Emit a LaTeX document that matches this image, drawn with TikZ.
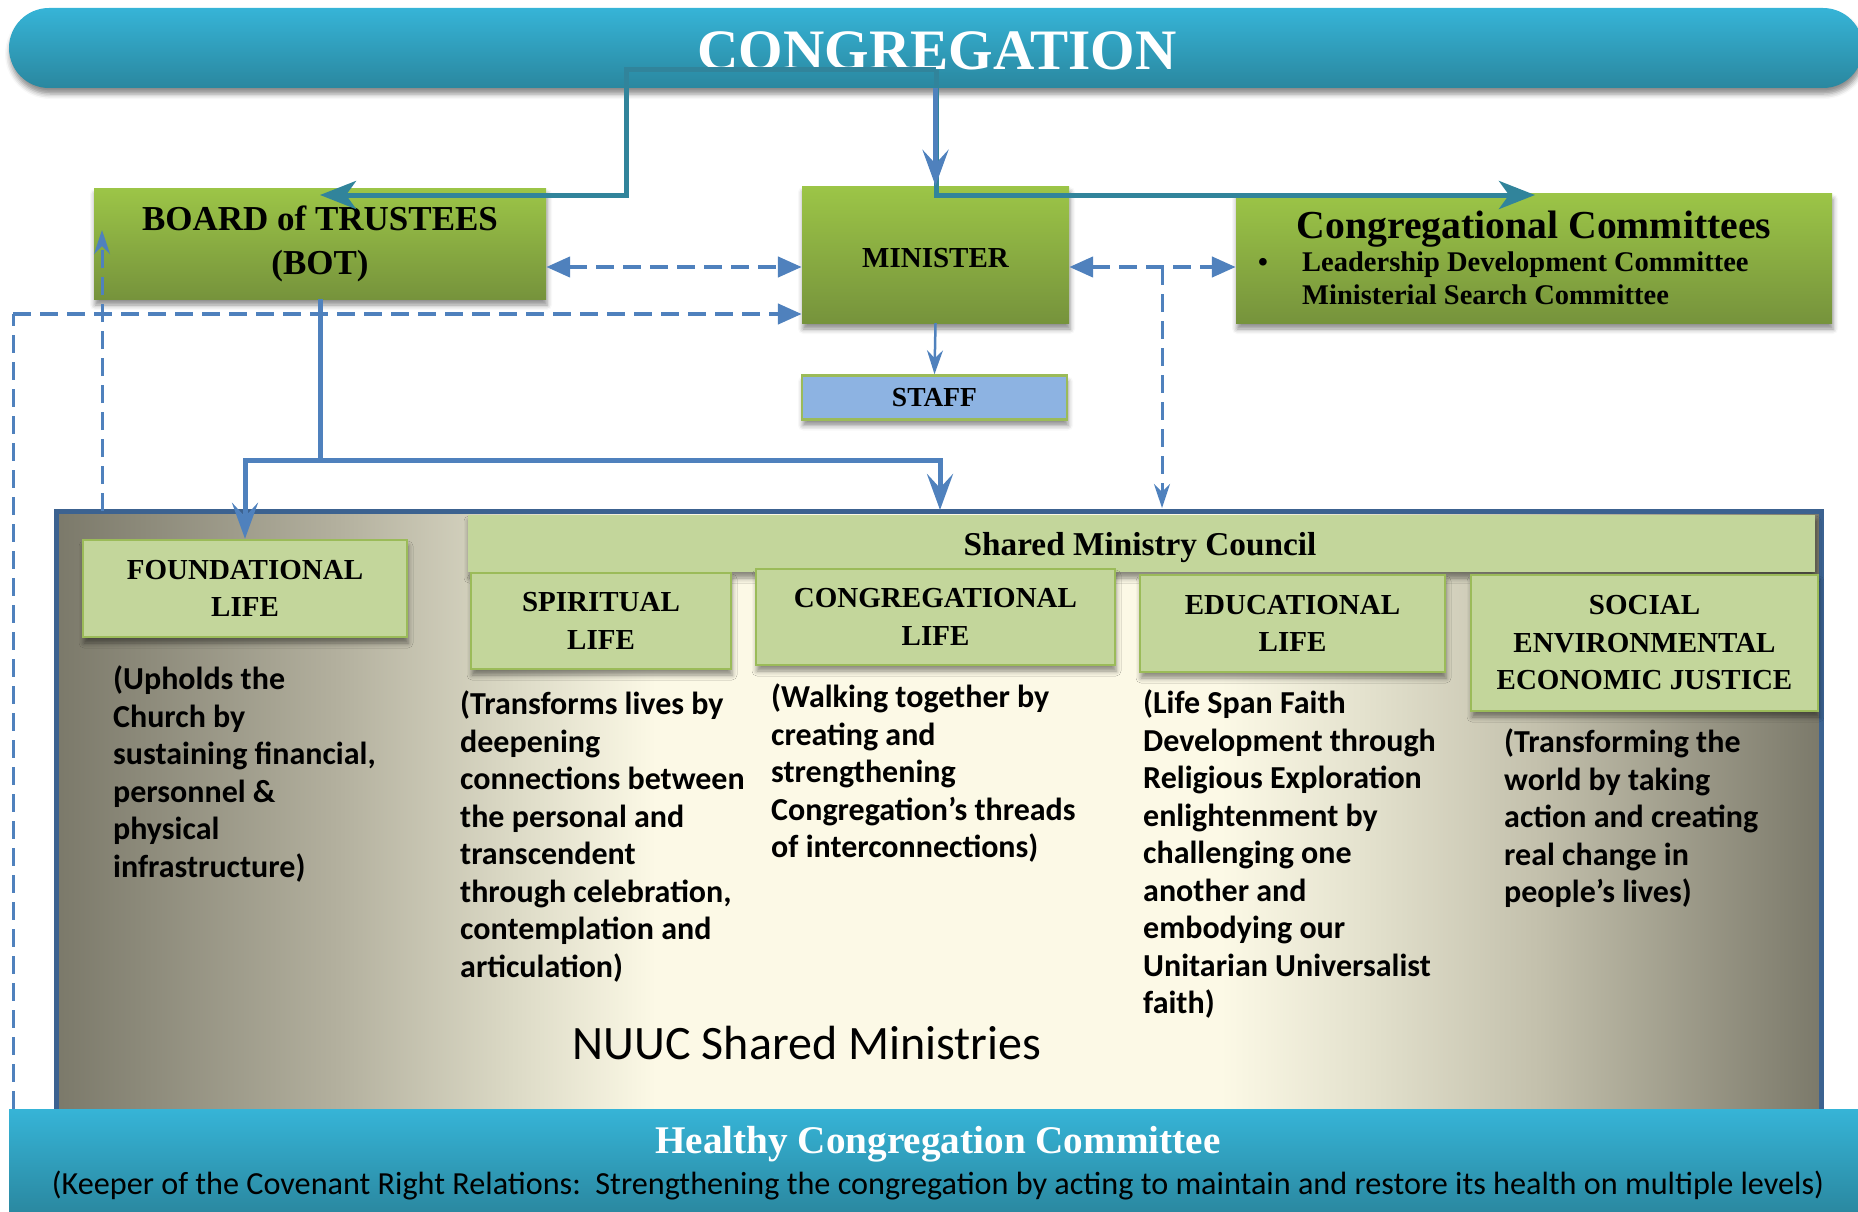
\documentclass[tikz,border=0pt]{standalone}
\usepackage{fontspec}
\setmainfont{Liberation Serif}
\newfontfamily\carl{Carlito}
\usetikzlibrary{arrows.meta,shadows.blur}
\definecolor{tealA}{HTML}{31849B}
\definecolor{blueA}{HTML}{4F81BD}
\definecolor{bandtop}{HTML}{36B4D7}
\definecolor{bandbot}{HTML}{2A879F}
\definecolor{greentop}{HTML}{9CC547}
\definecolor{greenbot}{HTML}{76933C}
\definecolor{lightgreen}{HTML}{C3D69B}
\definecolor{lgborder}{HTML}{9BBB59}
\definecolor{staffblue}{HTML}{8DB3E2}
\definecolor{frameblue}{HTML}{3C6290}
\definecolor{grayedge}{HTML}{7B796A}
\definecolor{graymidA}{HTML}{B3B09E}
\definecolor{graymidB}{HTML}{DCDAC6}
\definecolor{graymidC}{HTML}{C3C0AC}
\definecolor{graymidD}{HTML}{E4E2CE}
\definecolor{cream}{HTML}{FCF9E6}
\pgfdeclarehorizontalshading{parchment}{100bp}{color(0bp)=(grayedge); color(25bp)=(grayedge); color(33bp)=(graymidA); color(38bp)=(graymidB); color(42bp)=(cream); color(58bp)=(cream); color(62bp)=(graymidD); color(67bp)=(graymidC); color(75bp)=(grayedge); color(100bp)=(grayedge)}
\tikzset{
  tri/.tip={Triangle[length=24pt,width=20pt]},
  thinstealth/.tip={Stealth[length=24pt,width=16pt,inset=8pt]}
}
\begin{document}
\begin{tikzpicture}[x=1pt,y=-1pt,
  shad/.style={blur shadow={shadow xshift=1pt,shadow yshift=-6pt,shadow blur radius=5pt,shadow opacity=45}},
  greenbox/.style={shad,top color=greentop,bottom color=greenbot,inner sep=0pt,align=center},
  lgbox/.style={shad,fill=lightgreen,draw=lgborder,line width=2.5pt,inner sep=0pt,align=center,
    font=\bfseries\fontsize{29}{37.5}\selectfont},
  oneline/.style={inner sep=0pt,anchor=base},
  desc/.style={font=\carl\bfseries\fontsize{32}{37.5}\selectfont,align=left,anchor=north west,inner sep=0pt},
  tealline/.style={draw=tealA,line width=5pt,-{Stealth[length=36pt,width=28pt,inset=10pt]}},
  bluearrow/.style={draw=blueA,line width=5pt,-{Stealth[length=36pt,width=26pt,inset=14pt]}},
  bluethin/.style={draw=blueA,line width=2.5pt,-thinstealth},
  dashthick/.style={draw=blueA,line width=4.5pt,dash pattern=on 18pt off 9pt},
  dashthin/.style={draw=blueA,line width=3pt,dash pattern=on 18pt off 9pt}]
\useasboundingbox (0,0) rectangle (1858,1212);
\begin{scope}
\clip (0,0) rectangle (1858,1212);
% banner
\node[shad,top color=bandtop,bottom color=bandbot,rounded corners=40pt,minimum width=1854pt,minimum height=80pt,inner sep=0pt] (cong) at (936,48) {};
\node[oneline,text=white,font=\bfseries\fontsize{57.2}{60}\selectfont] (congt) at (937,70) {CONGREGATION};
% top boxes
\node[greenbox,minimum width=452pt,minimum height=111pt,font=\bfseries\fontsize{35}{44}\selectfont] (bot) at (320,243.5) {BOARD of TRUSTEES\\(BOT)};
\node[greenbox,minimum width=267pt,minimum height=137pt,text height=25pt,text depth=0pt,font=\bfseries\fontsize{29}{35}\selectfont] (min) at (935.5,254.5) {MINISTER};
\node[greenbox,minimum width=596pt,minimum height=130pt] (cc) at (1534,258) {};
\node[oneline,font=\bfseries\fontsize{39.7}{44}\selectfont] (cct) at (1534,238) {Congregational Committees};
\node[oneline,font=\bfseries\fontsize{28}{33}\selectfont] (bul) at (1263,271) {•};
\node[oneline,anchor=base west,font=\bfseries\fontsize{28.5}{33}\selectfont] (cc1) at (1302,271) {Leadership Development Committee};
\node[oneline,anchor=base west,font=\bfseries\fontsize{28.5}{33}\selectfont] (cc2) at (1302,304) {Ministerial Search Committee};
\node[shad,fill=staffblue,draw=lgborder,line width=2.5pt,minimum width=265pt,minimum height=44pt,inner sep=0pt,font=\bfseries\fontsize{27.5}{30}\selectfont] (staff) at (934.5,397.5) {STAFF};
% shared ministries frame
\node[shading=parchment,draw=frameblue,line width=5pt,minimum width=1765pt,minimum height=639pt,inner sep=0pt] (frame) at (938.5,830.5) {};
\node[shad,fill=lightgreen,minimum width=1347pt,minimum height=57pt,inner sep=0pt] (smc) at (1141.5,543.5) {};
\node[oneline,font=\bfseries\fontsize{33.3}{36}\selectfont] (smct) at (1140,555) {Shared Ministry Council};
\node[lgbox,minimum width=324pt,minimum height=97pt] (found) at (245,588.5) {FOUNDATIONAL\\LIFE};
\node[lgbox,minimum width=260pt,minimum height=96pt] (spir) at (601,621) {SPIRITUAL\\LIFE};
\node[lgbox,minimum width=359pt,minimum height=96pt] (congl) at (935.5,617) {CONGREGATIONAL\\LIFE};
\node[lgbox,minimum width=305pt,minimum height=97pt] (edu) at (1292.5,623.5) {EDUCATIONAL\\LIFE};
\node[lgbox,minimum width=347pt,minimum height=136pt] (soc) at (1644.5,643) {SOCIAL\\ENVIRONMENTAL\\ECONOMIC JUSTICE};
\node[desc] (d1) at (113,666) {(Upholds the\\Church by\\sustaining financial,\\personnel \&\\physical\\infrastructure)};
\node[desc] (d2) at (460,691) {(Transforms lives by\\deepening\\connections between\\the personal and\\transcendent\\through celebration,\\contemplation and\\articulation)};
\node[desc] (d3) at (771,684) {(Walking together by\\creating and\\strengthening\\Congregation’s threads\\of interconnections)};
\node[desc] (d4) at (1143,690) {(Life Span Faith\\Development through\\Religious Exploration\\enlightenment by\\challenging one\\another and\\embodying our\\Unitarian Universalist\\faith)};
\node[desc] (d5) at (1504,729) {(Transforming the\\world by taking\\action and creating\\real change in\\people’s lives)};
\node[oneline,font=\carl\fontsize{48}{52}\selectfont] (nuuc) at (807,1059) {NUUC Shared Ministries};
% healthy congregation
\node[top color=bandtop,bottom color=bandbot,minimum width=1858pt,minimum height=106pt,inner sep=0pt] (hcc) at (938,1162) {};
\node[oneline,text=white,font=\bfseries\fontsize{39.2}{42}\selectfont] (hcct) at (938,1153.5) {Healthy Congregation Committee};
\node[oneline,font=\carl\fontsize{32.2}{34}\selectfont] (hccs) at (938,1194) {(Keeper of the Covenant Right Relations:\ \ Strengthening the congregation by acting to maintain and restore its health on multiple levels)};
% connectors
\coordinate (t0) at (936,70);
\coordinate (c1) at (626,70);
\coordinate (botin) at (320,195);
\coordinate (ccin) at (1535,195);
\draw[tealline] (t0) -- (c1) |- (botin);
\draw[tealline] (t0) |- (ccin);
\draw[bluearrow] (cong.south -| min.north) -- (min.north);
\draw[bluethin] (min.south) -- (staff.north);
\coordinate (j) at (320,460);
\coordinate (smcin) at (940,510);
\draw[bluearrow] (bot.south) -- (j) -| (found.north);
\draw[bluearrow] (j) -| (smcin);
\draw[dashthick,tri-tri] (bot.east |- 0,267) -- (min.west |- 0,267);
\draw[dashthick,tri-tri] (min.east |- 0,267) -- (cc.west |- 0,267);
\coordinate (lc) at (13,314);
\draw[dashthin] (hcc.north -| lc) -- (lc);
\draw[dashthick,-tri] (lc) -- (min.west |- lc);
\coordinate (fb) at (102,511);
\coordinate (fbt) at (102,230);
\draw[dashthin,-thinstealth] (fb) -- (fbt);
\coordinate (mj) at (1162,267);
\coordinate (mjb) at (1162,508);
\draw[dashthin,-thinstealth] (mj) -- (mjb);
\end{scope}
\end{tikzpicture}
\end{document}
